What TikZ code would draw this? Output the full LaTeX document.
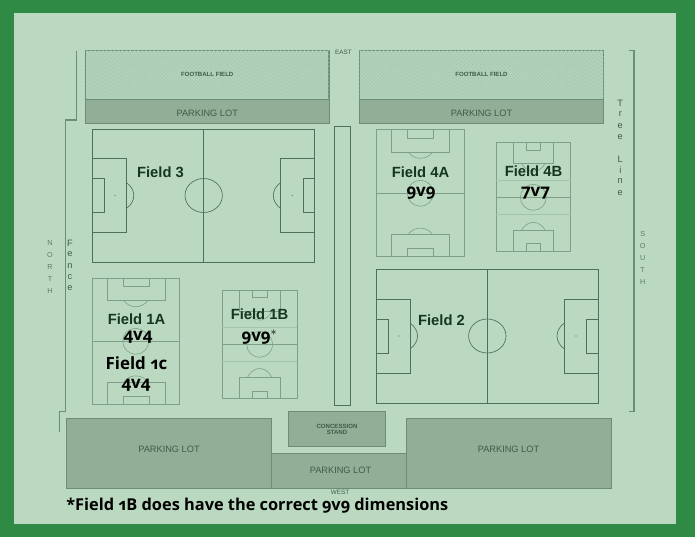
\documentclass[tikz,border=0pt]{standalone}
\usepackage{fontspec}
\setmainfont{Liberation Sans}
\newfontfamily\notefont[Numbers=OldStyle]{Open Sans}
\usetikzlibrary{patterns}
\definecolor{framegreen}{HTML}{2F8A45}
\definecolor{sheetgreen}{HTML}{BAD9C0}
\definecolor{lotgreen}{HTML}{92AE96}
\definecolor{edgegreen}{HTML}{6C8E75}
\definecolor{pitchdark}{HTML}{4F7059}
\definecolor{pitchpale}{HTML}{7F9F88}
\definecolor{bandpale}{HTML}{A3C4AB}
\definecolor{hatchgreen}{HTML}{B2D1BA}
\definecolor{labelgreen}{HTML}{16361F}
\definecolor{smalltext}{HTML}{3F5C48}
\definecolor{lettergreen}{HTML}{5E7C67}
\tikzset{
  lotbox/.style={draw=edgegreen,fill=lotgreen,line width=0.7pt},
  hatchbox/.style={draw=edgegreen,line width=0.9pt,fill=hatchgreen,postaction={pattern=crosshatch dots,pattern color=bandpale}},
  bound/.style={draw=edgegreen,line width=0.8pt},
  pitchwide/.style={draw=pitchdark,line width=0.5pt},
  pitchtall/.style={draw=pitchpale,line width=0.45pt},
  fieldname/.style={font=\bfseries\fontsize{11.2}{13}\selectfont,text=labelgreen},
  agename/.style={font=\notefont\bfseries\fontsize{12.8}{14}\selectfont,text=black},
  lotname/.style={font=\fontsize{7}{8}\selectfont,text=smalltext},
  tinyname/.style={font=\bfseries\fontsize{4.6}{5}\selectfont,text=smalltext,align=center},
  letter/.style={font=\fontsize{5.5}{6}\selectfont,text=lettergreen},
  bigletter/.style={font=\fontsize{7}{8}\selectfont,text=smalltext}
}
\begin{document}
\begin{tikzpicture}[x=0.1333mm*2,y=-0.1333mm*2,line join=miter]
  \fill[framegreen] (0,0) rectangle (695,537);
  \fill[sheetgreen] (14,13) rectangle (676,524);
  \useasboundingbox (0,0) rectangle (695,537);

  \foreach \l/\r/\n in {85.5/329/a,359.5/603.5/b} {
    \path[hatchbox] (\l,50.7) rectangle (\r,99.5);
    \path[lotbox] (\l,99.5) rectangle (\r,123.5);
    \node[tinyname] (football\n) at ({(\l+\r)/2},74.7) {FOOTBALL FIELD};
    \node[lotname] (lot\n) at ({(\l+\r)/2},113) {PARKING LOT};
  }
  \path[lotbox] (66,418.3) rectangle (271.7,488);
  \path[lotbox] (271.7,453.3) rectangle (406.3,488);
  \path[lotbox] (406.3,418.3) rectangle (611.7,488);
  \path[lotbox] (288.3,411.7) rectangle (385.7,446.3);
  \node[lotname] (lotc) at (169,449.5) {PARKING LOT};
  \node[lotname] (lotd) at (340.5,470.5) {PARKING LOT};
  \node[lotname] (lote) at (508.5,449.5) {PARKING LOT};
  \node[tinyname] (stand) at (337,429.5) {CONCESSION\\[-0.5pt]STAND};

  \draw[bound] (76.7,50.7) -- (76.7,120) -- (65.5,120) -- (65.5,411.7) -- (59.3,411.7) -- (59.3,432.3);
  \draw[bound] (628.5,50.7) -- (634,50.7) -- (634,411.7) -- (628.5,411.7);
  \draw[draw=pitchdark,line width=0.7pt] (334.3,126) rectangle (350.7,405);

  \foreach \l/\m/\r/\t/\b/\c in {92.3/203.7/314.3/129/262.3/195.5,376/487.3/598/269/403/336} {
    \draw[pitchwide] (\l,\t) rectangle (\r,\b);
    \draw[pitchwide] (\m,\t) -- (\m,\b);
    \draw[pitchwide] (\m,\c) ellipse (18.7 and 17);
    \draw[pitchwide] (\l,\c-37) -| (\l+34,\c+37) -- (\l,\c+37);
    \draw[pitchwide] (\l,\c-17) -| (\l+12,\c+17) -- (\l,\c+17);
    \draw[pitchwide] (\r,\c-37) -| (\r-33.5,\c+37) -- (\r,\c+37);
    \draw[pitchwide] (\r,\c-17) -| (\r-11.3,\c+17) -- (\r,\c+17);
    \draw[pitchwide] (\l+34,\c-13) .. controls (\l+44,\c-6) and (\l+44,\c+6) .. (\l+34,\c+13);
    \draw[pitchwide] (\r-33.5,\c-13) .. controls (\r-43.5,\c-6) and (\r-43.5,\c+6) .. (\r-33.5,\c+13);
    \fill[pitchdark] (\l+22.7,\c) circle (0.6) (\r-22,\c) circle (0.6);
  }

  \foreach \l/\r/\t/\b/\m/\bw/\gw/\bh/\gh/\ah in {
      376.7/464/129.7/256.7/193.3/29/13/22.6/8.6/28.6,
      92.3/179.3/278.3/404.3/341.3/29/13/22.4/8/28.4,
      496/570.7/142.7/251/197.3/20.3/7.2/20.6/7.3/29.3,
      222.3/297/290.7/398/344.3/20.3/7.2/21/6.3/30.3} {
    \draw[pitchtall] (\l,\t) rectangle (\r,\b);
    \draw[pitchtall] (\l,\m) -- (\r,\m);
    \draw[pitchtall] ({(\l+\r)/2},\m) circle (13);
    \draw[pitchtall] ({(\l+\r)/2-\bw},\t) |- ({(\l+\r)/2+\bw},\t+\bh) -- ({(\l+\r)/2+\bw},\t);
    \draw[pitchtall] ({(\l+\r)/2-\gw},\t) |- ({(\l+\r)/2+\gw},\t+\gh) -- ({(\l+\r)/2+\gw},\t);
    \draw[pitchtall] ({(\l+\r)/2-\bw},\b) |- ({(\l+\r)/2+\bw},\b-\bh) -- ({(\l+\r)/2+\bw},\b);
    \draw[pitchtall] ({(\l+\r)/2-\gw},\b) |- ({(\l+\r)/2+\gw},\b-\gh) -- ({(\l+\r)/2+\gw},\b);
    \draw[pitchtall] ({(\l+\r)/2-12},\t+\bh) .. controls ({(\l+\r)/2-6},\t+\ah+2) and ({(\l+\r)/2+6},\t+\ah+2) .. ({(\l+\r)/2+12},\t+\bh);
    \draw[pitchtall] ({(\l+\r)/2-12},\b-\bh) .. controls ({(\l+\r)/2-6},\b-\ah-2) and ({(\l+\r)/2+6},\b-\ah-2) .. ({(\l+\r)/2+12},\b-\bh);
  }
  \foreach \l/\r/\m in {496/570.7/197.3,222.3/297/344.3} {
    \draw[bandpale,line width=0.5pt] (\l,\m-16.6) -- (\r,\m-16.6) (\l,\m+16.7) -- (\r,\m+16.7);
  }

  \node[fieldname] (fieldthree) at (160.5,172) {Field 3};
  \node[fieldname] (fieldtwo) at (441.5,320) {Field 2};
  \node[fieldname] (fieldfoura) at (420.5,172) {Field 4A};
  \node[fieldname] (fieldfourb) at (533.5,171.5) {Field 4B};
  \node[fieldname] (fieldonea) at (136.5,319) {Field 1A};
  \node[fieldname] (fieldoneb) at (259.5,314) {Field 1B};
  \node[agename] (agefoura) at (421,193) {9v9};
  \node[agename] (agefourb) at (535.5,193) {7v7};
  \node[agename] (ageonea) at (138,337.5) {4v4};
  \node[agename] (ageoneb) at (259.5,337) {9v9$^{\ast}$};
  \node[agename] (fieldonec) at (136.5,363) {Field 1c};
  \node[agename] (ageonec) at (136,385.5) {4v4};
  \node[agename,font=\notefont\bfseries\fontsize{12.4}{14}\selectfont,anchor=west,inner sep=0pt] (note) at (66,506) {*Field 1B does have the correct 9v9 dimensions};

  \node[tinyname,font=\fontsize{4.8}{5}\selectfont] (east) at (343.5,52) {EAST};
  \node[tinyname,font=\fontsize{4.8}{5}\selectfont] (west) at (340,492.5) {WEST};
  \foreach \c [count=\i from 0] in {N,O,R,T,H} {
    \node[letter] (north\i) at (50,{243+12*\i}) {\c};
  }
  \foreach \c [count=\i from 0] in {S,O,U,T,H} {
    \node[letter] (south\i) at (642.7,{234+12*\i}) {\c};
  }
  \foreach \c [count=\i from 0] in {F,e,n,c,e} {
    \node[bigletter] (fence\i) at (70,{243+11.3*\i}) {\c};
  }
  \foreach \c/\y [count=\i from 0] in {T/103,r/114.5,e/126,e/137,L/159,i/170,n/181.5,e/193} {
    \node[bigletter] (tree\i) at (620.3,\y) {\c};
  }
\end{tikzpicture}
\end{document}
